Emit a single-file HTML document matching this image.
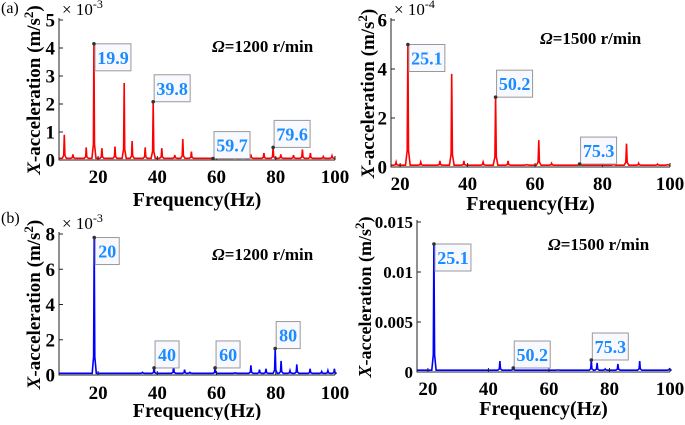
<!DOCTYPE html>
<html><head><meta charset="utf-8"><style>
body{margin:0;background:#fff}
svg{font-family:"Liberation Serif",serif;font-weight:bold}
</style></head><body>
<svg id="c" width="685" height="420" xmlns="http://www.w3.org/2000/svg">
<text x="1" y="13" font-size="16" font-weight="normal">(a)</text>
<text x="1" y="223" font-size="16" font-weight="normal">(b)</text>
</svg>
<script>
// Panel A (1e-3 m/s^2), 1200 r/min, red
const freqA=[8.6,11.5,16,18.6,21.3,25.7,28.8,31.5,35.9,38.6,41.5,45.9,48.6,51.5,58.8,66.2,69,71.6,76,79.1,81.7,86,89,91.7,96,99];
const ampA=[0.9,0.2,0.45,4.15,0.42,0.48,2.75,0.68,0.45,2.08,0.42,0.18,0.75,0.3,0.05,0.1,0.12,0.2,0.25,0.45,0.2,0.18,0.38,0.25,0.12,0.15];
const markA=[{f:18.6,a:4.15,t:"19.9",below:true},{f:38.6,a:2.08,t:"39.8"},{f:58.8,a:0.05,t:"59.7"},{f:79.1,a:0.45,t:"79.6"}];
const yTicksA=[0,1,2,3,4,5];
// Panel B (1e-4), 1500 r/min, red
const freqB=[18.8,22.3,26.1,31.8,35.3,38.9,44.6,48.3,52,57.5,61.1,64.9,73.2,83.3,87.1,90.7,96.3,99.3];
const ampB=[0.2,5.0,0.2,0.25,3.8,0.25,0.2,2.85,0.25,0.1,1.1,0.15,0.1,0.15,0.95,0.15,0.12,0.1];
const markB=[{f:22.3,a:5.0,t:"25.1",below:true},{f:48.3,a:2.85,t:"50.2"},{f:73.2,a:0.12,t:"75.3"}];
const yTicksB=[0,2,4,6];
// Panel C (1e-3), 1200 r/min, blue
const freqC=[18.7,35,38.9,45.5,49.2,51,59.5,66.3,71.6,74.5,76.7,79.8,81.8,84.8,87.1,91.6,95.5,97.6,99.8];
const ampC=[7.8,0.15,0.4,0.5,0.3,0.15,0.4,0.12,0.55,0.3,0.35,1.5,0.8,0.25,0.6,0.35,0.2,0.25,0.35];
const markC=[{f:18.7,a:7.8,t:"20",below:true},{f:38.9,a:0.4,t:"40"},{f:59.5,a:0.4,t:"60"},{f:79.8,a:1.5,t:"80"}];
const yTicksC=[0,2,4,6,8];
// Panel D (m/s^2), 1500 r/min, blue
const freqD=[22,43.8,48.2,63,74,75.9,78.6,82.8,90,99.8];
const ampD=[0.0128,0.0011,0.0004,0.0002,0.0012,0.0009,0.0003,0.0008,0.0011,0.0003];
const markD=[{f:22,a:0.0128,t:"25.1",below:true},{f:48.2,a:0.0004,t:"50.2"},{f:74,a:0.0012,t:"75.3"}];
const yTicksD=[0,0.005,0.01,0.015];
const yTickLabD=["0","0.005","0.01","0.015"];
const xTicks=[20,40,60,80,100];

const svg=document.getElementById('c');
const NS='http://www.w3.org/2000/svg';
function mk(tag,attrs,parent){const e=document.createElementNS(NS,tag);for(const k in attrs)e.setAttribute(k,attrs[k]);(parent||svg).appendChild(e);return e;}

function panel(p){
  const g=mk('g',{});
  
  
  const sx=f=>p.x0+(f-p.fmin)/(100-p.fmin)*(p.x1-p.x0);
  const sy=v=>p.y0-(v/p.ymax)*(p.y0-p.y1);
  const base=p.ymax*0.012;
  let pts=[[p.fmin,base]];
  p.freq.forEach((f,i)=>{const a=p.amp[i];
    pts.push([f-0.7,base],[f-0.2,base+a*0.12],[f,a],[f+0.2,base+a*0.12],[f+0.7,base]);});
  pts.push([100,base]);
  const line=mk('polyline',{points:pts.map(q=>sx(q[0]).toFixed(1)+','+sy(q[1]).toFixed(1)).join(' '),fill:'none',stroke:p.color,'stroke-width':1.6},g);
  
  
  const ax=mk('path',{d:`M${p.x0},${p.y1-2}V${p.y0}H${p.x1}`,stroke:'#222','stroke-width':1,fill:'none'},g);
  
  
  const tfs=p.ytfs||19;
  p.yt.forEach((v,i)=>{
    mk('line',{x1:p.x0,x2:p.x0+4,y1:sy(v),y2:sy(v),stroke:'#222'},g);
    const t=mk('text',{x:p.x0-4,y:sy(v)+tfs*0.35,'font-size':tfs,'text-anchor':'end'},g);
    t.textContent=p.ytl?p.ytl[i]:String(v);
    
    
  });
  xTicks.forEach(v=>{
    mk('line',{x1:sx(v),x2:sx(v),y1:p.y0,y2:p.y0-4,stroke:'#222'},g);
    const t=mk('text',{x:sx(v),y:p.xty,'font-size':19,'text-anchor':'middle'},g);
    t.textContent=String(v);
    
    
  });
  const xl=mk('text',{x:(p.x0+p.x1)/2,y:p.xly,'font-size':20,'text-anchor':'middle'},g);
  xl.textContent='Frequency(Hz)';
  
  
  const yl=mk('text',{x:0,y:0,'font-size':p.ylfs||19,'text-anchor':'middle',transform:`translate(${p.ylx},${(p.y0+p.y1)/2}) rotate(-90)`},g);
  yl.innerHTML='<tspan font-style="italic">X</tspan>-acceleration (m/s<tspan font-size="13" dy="-7">2</tspan><tspan dy="7">)</tspan>';
  
  
  if(p.exp){const e=mk('text',{x:p.x0+3,y:p.y1-5,'font-size':17,'font-weight':'normal'},g);
    e.innerHTML='× 10<tspan font-size="12" dy="-7">'+p.exp+'</tspan>';
    
    }
  const om=mk('text',{x:p.omx,y:p.omy,'font-size':17},g);
  om.innerHTML='<tspan font-style="italic">Ω</tspan>='+p.rpm+' r/min';
  
  
  p.marks.forEach(m=>{
    const X=sx(m.f),Y=sy(m.a),w=m.t.length>2?36:24,h=27;
    const by=m.below?Y:Y-h;
    const bx=mk('rect',{x:X+1,y:by,width:w,height:h,fill:'#f8f8ff',stroke:'#999','stroke-width':1},g);
    
    
    const t=mk('text',{x:X+1+w/2,y:by+20,'font-size':18,'text-anchor':'middle',fill:'#1a8cff'},g);
    t.textContent=m.t;
    
    
    const d=mk('circle',{cx:X,cy:Y,r:1.8,fill:'#333'},g);
    
    
  });
}
panel({name:'chart-a-1200',freq:freqA,amp:ampA,marks:markA,yt:yTicksA,ymax:5,color:'#f00',x0:59,x1:335,fmin:6.8,y0:160,y1:20,xty:183,xly:206,ylx:40,exp:'-3',rpm:1200,omx:212,omy:52});
panel({name:'chart-b-1500',freq:freqB,amp:ampB,marks:markB,yt:yTicksB,ymax:6,color:'#f00',x0:391,x1:670,fmin:17.3,y0:167,y1:20,xty:190,xly:210,ylx:374,exp:'-4',rpm:1500,omx:540,omy:44});
panel({name:'chart-c-1200',freq:freqC,amp:ampC,marks:markC,yt:yTicksC,ymax:8,color:'#00f',x0:59,x1:335,fmin:6.8,y0:375,y1:234,xty:399,xly:417,ylx:40,exp:'-3',rpm:1200,omx:212,omy:260});
panel({name:'chart-d-1500',freq:freqD,amp:ampD,marks:markD,yt:yTicksD,ytl:yTickLabD,ytfs:17,ylfs:18,ymax:0.015,color:'#00f',x0:417,x1:670,fmin:16.4,y0:372,y1:222,xty:395,xly:415,ylx:371,exp:null,rpm:1500,omx:548,omy:250});
</script>
</body></html>
